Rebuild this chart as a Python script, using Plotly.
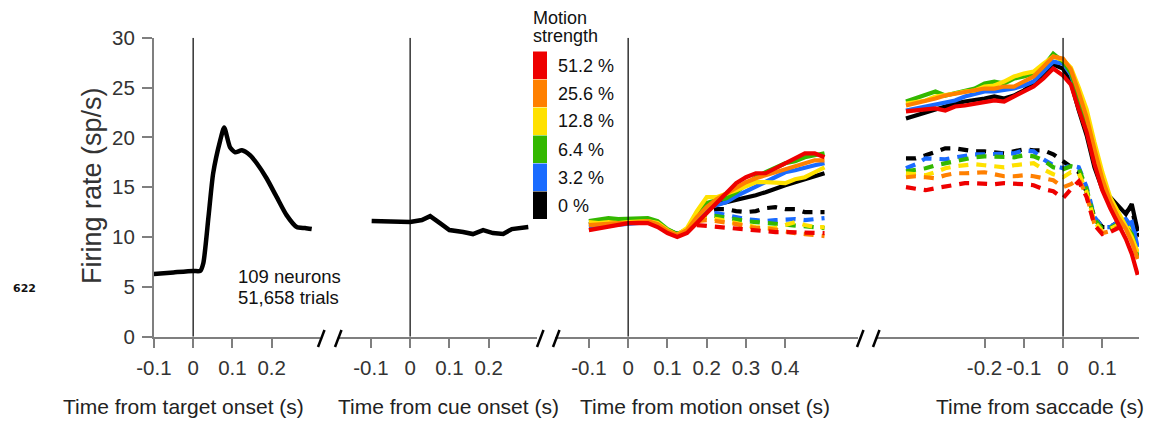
import plotly.graph_objects as go

W, H = 1162, 422

# ---------------- data ----------------
t_target = [-0.1, -0.05, 0.0, 0.018, 0.026, 0.039, 0.051, 0.069, 0.079, 0.094, 0.107,
            0.124, 0.145, 0.162, 0.187, 0.213, 0.238, 0.264, 0.285, 0.302]
fr_target = [6.29, 6.45, 6.6, 6.6, 7.4, 12.0, 16.4, 19.7, 21.0, 19.0, 18.5,
             18.7, 18.2, 17.4, 15.9, 14.0, 12.2, 11.0, 10.9, 10.8]

t_cue = [-0.098, -0.05, 0.0, 0.03, 0.051, 0.076, 0.1, 0.135, 0.16, 0.186, 0.211, 0.237, 0.259, 0.301]
fr_cue = [11.6, 11.6, 11.5, 11.7, 12.1, 11.4, 10.7, 10.5, 10.3, 10.7, 10.4, 10.3, 10.8, 11.0]

strengths = ["0 %", "3.2 %", "6.4 %", "12.8 %", "25.6 %", "51.2 %"]
colors = ["#000000", "#1a6bff", "#33b800", "#ffe100", "#ff8000", "#ee0000"]

t_motion = [-0.1, -0.075, -0.05, -0.025, 0.0, 0.025, 0.05, 0.075, 0.1, 0.125, 0.15, 0.175,
            0.2, 0.225, 0.25, 0.275, 0.3, 0.325, 0.35, 0.375, 0.4, 0.425, 0.45, 0.475, 0.5]
motion_in = {
    "0 %":    [11.3, 11.4, 11.5, 11.6, 11.8, 11.8, 11.7, 11.4, 10.7, 10.3, 10.6, 11.8, 12.7, 13.3, 13.5, 13.7, 13.9, 14.2, 14.5, 14.9, 15.2, 15.5, 15.8, 16.0, 16.4],
    "3.2 %":  [11.0, 11.1, 11.2, 11.2, 11.3, 11.4, 11.5, 11.3, 10.6, 10.2, 10.5, 11.8, 12.9, 13.2, 13.5, 14.1, 14.6, 15.0, 15.6, 16.0, 16.5, 16.7, 17.0, 17.2, 17.4],
    "6.4 %":  [11.6, 11.8, 11.9, 11.8, 11.8, 11.9, 11.9, 11.6, 10.8, 10.3, 10.8, 12.2, 13.4, 13.7, 13.9, 14.5, 15.2, 16.0, 16.5, 17.0, 17.4, 17.6, 18.0, 18.2, 18.4],
    "12.8 %": [11.5, 11.4, 11.5, 11.4, 11.5, 11.6, 11.6, 11.4, 10.7, 10.2, 10.9, 12.6, 14.0, 14.0, 14.3, 14.7, 15.1, 15.5, 15.5, 15.5, 15.4, 15.8, 16.0, 16.5, 17.0],
    "25.6 %": [11.2, 11.3, 11.3, 11.4, 11.4, 11.5, 11.6, 11.3, 10.6, 10.2, 10.7, 12.0, 13.0, 13.8, 14.4, 15.0, 15.5, 15.9, 16.2, 16.4, 16.7, 17.0, 17.3, 17.7, 17.7],
    "51.2 %": [10.7, 10.9, 11.1, 11.2, 11.4, 11.4, 11.4, 11.0, 10.4, 10.0, 10.4, 11.4, 12.4, 13.4, 14.4, 15.4, 16.0, 16.4, 16.4, 16.9, 17.4, 17.9, 18.4, 18.4, 18.0],
}
t_motion_out = [0.175, 0.2, 0.225, 0.25, 0.275, 0.3, 0.325, 0.35, 0.375, 0.4, 0.425, 0.45, 0.475, 0.5]
motion_out = {
    "0 %":    [12.2, 12.6, 12.8, 12.8, 12.6, 12.5, 12.6, 12.9, 13.0, 12.8, 12.8, 12.5, 12.5, 12.5],
    "3.2 %":  [12.0, 12.3, 12.4, 12.2, 11.9, 11.8, 11.7, 11.6, 11.7, 11.8, 11.8, 11.7, 11.8, 11.9],
    "6.4 %":  [11.9, 12.2, 12.1, 11.9, 11.8, 11.6, 11.5, 11.4, 11.3, 11.3, 11.2, 11.0, 10.9, 10.9],
    "12.8 %": [11.8, 12.0, 11.8, 11.6, 11.3, 11.1, 11.0, 10.9, 10.9, 11.2, 11.5, 11.2, 11.0, 11.0],
    "25.6 %": [11.6, 11.7, 11.6, 11.5, 11.3, 11.1, 10.9, 10.9, 10.7, 10.5, 10.4, 10.3, 10.2, 10.1],
    "51.2 %": [11.2, 11.1, 11.0, 10.9, 10.8, 10.7, 10.6, 10.6, 10.5, 10.5, 10.5, 10.4, 10.4, 10.4],
}

t_sacc = [-0.4, -0.375, -0.35, -0.325, -0.3, -0.275, -0.25, -0.225, -0.2, -0.175, -0.15,
          -0.125, -0.1, -0.075, -0.05, -0.025, 0.0, 0.02, 0.04, 0.06, 0.08, 0.1, 0.12,
          0.14, 0.16, 0.175, 0.19]
sacc_in = {
    "0 %":    [21.9, 22.2, 22.6, 22.9, 23.1, 23.4, 23.6, 23.7, 23.9, 24.1, 23.9, 24.2, 24.7, 25.4, 26.4, 27.3, 26.9, 25.5, 22.7, 20.2, 17.0, 14.8, 14.0, 13.2, 12.3, 13.3, 10.6],
    "3.2 %":  [22.7, 22.9, 23.1, 23.4, 23.6, 23.7, 24.1, 24.4, 24.6, 24.6, 24.7, 24.9, 25.2, 25.6, 26.6, 27.6, 27.4, 26.3, 23.8, 21.2, 18.0, 15.2, 13.3, 12.0, 11.2, 11.5, 9.0],
    "6.4 %":  [23.6, 23.9, 24.2, 24.6, 24.2, 24.4, 24.7, 24.9, 25.4, 25.6, 25.4, 25.9, 26.1, 26.4, 27.1, 28.4, 27.6, 26.5, 24.0, 21.5, 18.2, 15.3, 13.4, 12.0, 11.0, 10.3, 8.0],
    "12.8 %": [23.4, 23.6, 23.7, 24.1, 24.2, 24.4, 24.6, 24.7, 25.1, 25.2, 25.6, 26.1, 26.4, 26.6, 27.4, 28.1, 27.8, 27.0, 25.0, 22.8, 19.5, 16.5, 14.0, 12.5, 11.2, 10.0, 8.5],
    "25.6 %": [23.2, 23.4, 23.6, 23.9, 24.2, 24.4, 24.6, 24.7, 24.9, 24.9, 25.1, 25.1, 25.6, 26.1, 27.1, 28.1, 27.9, 26.8, 24.5, 22.0, 18.8, 15.8, 13.6, 12.0, 10.8, 9.5, 7.8],
    "51.2 %": [22.6, 22.7, 22.7, 22.9, 22.7, 23.1, 23.2, 23.4, 23.6, 23.7, 23.6, 24.1, 24.6, 25.1, 25.9, 26.9, 26.2, 25.3, 22.8, 20.5, 17.3, 14.7, 12.9, 11.4, 9.8, 8.3, 6.2],
}
sacc_out = {
    "0 %":    [17.9, 17.9, 18.2, 18.5, 18.9, 18.9, 18.7, 18.6, 18.6, 18.5, 18.4, 18.6, 18.8, 18.7, 18.7, 18.3, 17.6, 17.0, 16.5, 14.5, 12.0, 11.0, 11.0, 11.5, 12.5, 13.0, 10.0],
    "3.2 %":  [16.9, 17.3, 17.9, 17.9, 17.8, 18.0, 18.2, 18.3, 18.3, 18.3, 18.3, 18.4, 18.7, 18.6, 17.8, 17.2, 16.9, 17.2, 17.0, 15.0, 12.0, 11.0, 11.0, 11.5, 11.8, 11.0, 10.5],
    "6.4 %":  [16.6, 16.7, 16.9, 17.2, 17.4, 17.6, 17.9, 18.0, 18.1, 18.1, 18.0, 18.0, 18.2, 18.1, 17.7, 17.0, 16.8, 17.1, 16.9, 14.8, 11.8, 10.8, 10.9, 11.3, 11.5, 10.8, 10.3],
    "12.8 %": [16.4, 16.3, 16.2, 16.5, 16.9, 17.1, 17.2, 17.3, 17.2, 17.1, 17.0, 17.2, 17.3, 17.4, 16.8, 16.3, 16.0, 16.5, 16.4, 14.5, 11.5, 10.6, 10.8, 11.2, 11.3, 10.5, 10.0],
    "25.6 %": [16.0, 16.1, 16.0, 15.9, 16.2, 16.4, 16.4, 16.5, 16.5, 16.3, 16.1, 16.1, 16.2, 16.1, 15.9, 15.7, 15.0, 15.3, 15.8, 14.2, 11.3, 10.4, 10.6, 11.0, 11.1, 10.3, 9.8],
    "51.2 %": [15.0, 14.8, 14.7, 14.9, 15.1, 15.3, 15.4, 15.4, 15.3, 15.3, 15.4, 15.4, 15.3, 15.2, 14.8, 14.6, 13.9, 14.8, 15.6, 14.0, 11.2, 10.3, 10.5, 10.9, 11.0, 10.2, 9.6],
}

tick_vals_1 = [-0.1, 0, 0.1, 0.2]
tick_text_1 = ["-0.1", "0", "0.1", "0.2"]
tick_vals_3 = [-0.1, 0, 0.1, 0.2, 0.3, 0.4]
tick_text_3 = ["-0.1", "0", "0.1", "0.2", "0.3", "0.4"]
tick_vals_4 = [-0.2, -0.1, 0, 0.1]
tick_text_4 = ["-0.2", "-0.1", "0", "0.1"]
y_ticks = [0, 5, 10, 15, 20, 25, 30]

titles = ["Time from target onset (s)", "Time from cue onset (s)",
          "Time from motion onset (s)", "Time from saccade (s)"]

# ---------------- layout helpers ----------------
def px(x):
    return x / W

def py(y):
    return (H - y) / H

FONT = "Liberation Sans, Arial, Helvetica, sans-serif"
fig = go.Figure()

LW = 4.2
DASH = "10px,8px"

# panel 1 & 2
fig.add_trace(go.Scatter(x=t_target, y=fr_target, mode="lines", xaxis="x", yaxis="y",
                         line=dict(color="black", width=4.5, shape="spline", smoothing=0.6),
                         showlegend=False, hoverinfo="skip"))
fig.add_trace(go.Scatter(x=t_cue, y=fr_cue, mode="lines", xaxis="x2", yaxis="y",
                         line=dict(color="black", width=4.5), showlegend=False, hoverinfo="skip"))

# panel 3
for s, c in zip(strengths, colors):
    fig.add_trace(go.Scatter(x=t_motion_out, y=motion_out[s], mode="lines", xaxis="x3", yaxis="y",
                             line=dict(color=c, width=LW, dash=DASH), showlegend=False, hoverinfo="skip"))
for s, c in zip(strengths, colors):
    fig.add_trace(go.Scatter(x=t_motion, y=motion_in[s], mode="lines", xaxis="x3", yaxis="y",
                             line=dict(color=c, width=LW), showlegend=False, hoverinfo="skip"))
# panel 4
for s, c in zip(strengths, colors):
    fig.add_trace(go.Scatter(x=t_sacc, y=sacc_out[s], mode="lines", xaxis="x4", yaxis="y",
                             line=dict(color=c, width=LW, dash=DASH), showlegend=False, hoverinfo="skip"))
for s, c in zip(strengths, colors):
    fig.add_trace(go.Scatter(x=t_sacc, y=sacc_in[s], mode="lines", xaxis="x4", yaxis="y",
                             line=dict(color=c, width=LW), showlegend=False, hoverinfo="skip"))

SCALE = 393.0  # pixels per second
panels = [  # (left px, right px, px of t=0, ticks, labels)
    (153.7, 320, 193, tick_vals_1, tick_text_1),
    (338, 537, 410, tick_vals_1, tick_text_1),
    (555, 858, 628, tick_vals_3, tick_text_3),
    (877, 1139, 1063, tick_vals_4, tick_text_4),
]
axis_common = dict(showline=True, linecolor="#7f7f7f", linewidth=1.5, ticks="outside",
                   ticklen=10, tickcolor="#7f7f7f", tickwidth=1.5, showgrid=False,
                   zeroline=False, tickfont=dict(family=FONT, size=20.5, color="#333333"),
                   ticklabelstandoff=2, fixedrange=True, automargin=False)
layout_axes = {}
for i, (l, r, z, tv, tt) in enumerate(panels):
    name = "xaxis" if i == 0 else f"xaxis{i+1}"
    layout_axes[name] = dict(axis_common, domain=[px(l), px(r)],
                             range=[(l - z) / SCALE - 0.0005, (r - z) / SCALE],
                             tickvals=tv, ticktext=tt, anchor="y")
layout_axes["yaxis"] = dict(axis_common, domain=[py(336.7), py(37.7)], range=[0, 30],
                            tickvals=y_ticks, anchor="x", ticklabelstandoff=3)

shapes = []
# vertical zero lines
for ax in ["x", "x2", "x3", "x4"]:
    shapes.append(dict(type="line", xref=ax, yref="y", x0=0, x1=0, y0=0, y1=30,
                       line=dict(color="black", width=1.2)))
# axis break slashes
for xl in [318, 335, 537, 553, 857, 873]:
    shapes.append(dict(type="line", xref="paper", yref="paper", x0=px(xl), x1=px(xl + 6.5),
                       y0=py(347), y1=py(330), line=dict(color="black", width=2.5)))
# legend color boxes
box_tops = [51.5, 79.5, 107.5, 135.5, 163.5, 191.5]
for yt, c in zip(box_tops, colors[::-1]):
    shapes.append(dict(type="rect", xref="paper", yref="paper", x0=px(533), x1=px(547),
                       y0=py(yt + 27.5), y1=py(yt), fillcolor=c, line=dict(width=0)))

annotations = []
for i, (title, xc) in enumerate(zip(titles, [183, 448, 705, 1040])):
    annotations.append(dict(text=title, xref="paper", yref="paper", x=px(xc), y=py(406),
                            xanchor="center", yanchor="middle", showarrow=False,
                            font=dict(family=FONT, size=21, color="#222222")))
annotations.append(dict(text="Firing rate (sp/s)", xref="paper", yref="paper", x=px(92), y=py(186),
                        textangle=-90, xanchor="center", yanchor="middle", showarrow=False,
                        font=dict(family=FONT, size=27, color="#333333")))
for txt, yc in [("109 neurons", 276), ("51,658 trials", 297)]:
    annotations.append(dict(text=txt, xref="paper", yref="paper",
                            x=px(236), y=py(yc), xanchor="left", yanchor="middle", align="left",
                            showarrow=False, font=dict(family=FONT, size=18.5, color="#111111")))
annotations.append(dict(text="<b>622</b>", xref="paper", yref="paper", x=px(24), y=py(288),
                        xanchor="center", yanchor="middle", showarrow=False,
                        font=dict(family="DejaVu Sans", size=11, color="#111111")))
for txt, yc in [("Motion", 18), ("strength", 36)]:
    annotations.append(dict(text=txt, xref="paper", yref="paper", x=px(531), y=py(yc),
                            xanchor="left", yanchor="middle", align="left", showarrow=False,
                            font=dict(family=FONT, size=18, color="#111111")))
for yt, s in zip(box_tops, strengths[::-1]):
    annotations.append(dict(text=s, xref="paper", yref="paper", x=px(556), y=py(yt + 14),
                            xanchor="left", yanchor="middle", showarrow=False,
                            font=dict(family=FONT, size=18, color="#111111")))

fig.update_layout(width=W, height=H, margin=dict(l=0, r=0, t=0, b=0),
                  paper_bgcolor="white", plot_bgcolor="white", showlegend=False,
                  shapes=shapes, annotations=annotations, **layout_axes)

fig.write_html("out.html")
